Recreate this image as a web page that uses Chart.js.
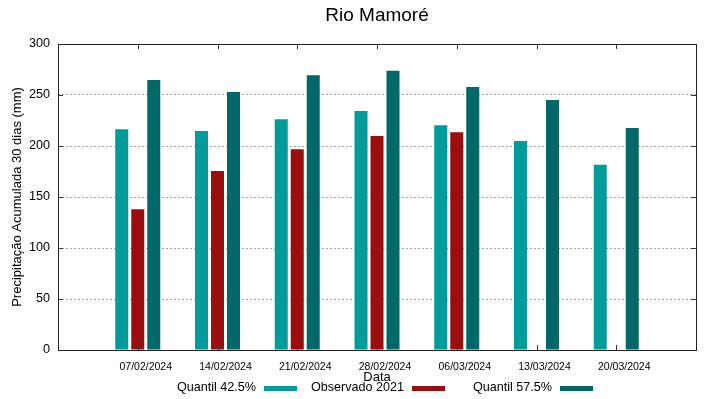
<!DOCTYPE html>
<html>
<head>
<meta charset="utf-8">
<script src="https://cdn.jsdelivr.net/npm/chart.js@4"></script>
<style>
  body { margin: 0; background: #fff; }
  #wrap { width: 719px; height: 399px; }
</style>
</head>
<body>
<div id="wrap"><canvas id="rioChart" width="719" height="399"></canvas></div>
<script>
// dados
const datas = ["07/02/2024", "14/02/2024", "21/02/2024", "28/02/2024", "06/03/2024", "13/03/2024", "20/03/2024"];
const quantil425 = [216.5, 214.7, 226.2, 234.3, 220.3, 205.0, 181.7];
const observado2021 = [138.0, 175.5, 196.7, 209.8, 213.4, null, null];
const quantil575 = [264.7, 252.9, 269.3, 273.8, 257.8, 245.1, 217.6];
const yTicks = [0, 50, 100, 150, 200, 250, 300];

const titulo = "Rio Mamoré";
const fonte = '"Liberation Sans", Arial, sans-serif';

// uma categoria vazia em cada ponta, como o xrange do original
const labels = [""].concat(datas, [""]);
function pad(arr) {
  return [null].concat(arr, [null]);
}

// titulo, moldura, tics para dentro e legenda
const molduraPlugin = {
  id: "moldura",
  afterDraw(chart) {
    const ctx = chart.ctx;
    const a = chart.chartArea;
    const xs = chart.scales.x;
    const ys = chart.scales.y;
    ctx.save();

    ctx.strokeStyle = "#333";
    ctx.lineWidth = 1;
    ctx.setLineDash([]);
    ctx.beginPath();
    for (let i = 1; i <= datas.length; i++) {
      const px = Math.round(xs.getPixelForValue(i)) + 0.5;
      ctx.moveTo(px, a.bottom);
      ctx.lineTo(px, a.bottom - 5);
      ctx.moveTo(px, a.top);
      ctx.lineTo(px, a.top + 5);
    }
    yTicks.forEach((v) => {
      const py = Math.round(ys.getPixelForValue(v)) + 0.5;
      ctx.moveTo(a.left, py);
      ctx.lineTo(a.left + 5, py);
      ctx.moveTo(a.right, py);
      ctx.lineTo(a.right - 5, py);
    });
    ctx.stroke();

    ctx.strokeStyle = "#222";
    ctx.strokeRect(Math.round(a.left) + 0.5, Math.round(a.top) + 0.5, Math.round(a.right - a.left), Math.round(a.bottom - a.top));

    const cx = (a.left + a.right) / 2;
    ctx.fillStyle = "#000";
    ctx.font = "19px " + fonte;
    ctx.textAlign = "center";
    ctx.textBaseline = "alphabetic";
    ctx.fillText(titulo, cx, 21);

    // legenda em colunas fixas, texto alinhado a direita
    ctx.font = "12.6px " + fonte;
    ctx.textAlign = "right";
    ctx.textBaseline = "middle";
    chart.data.datasets.forEach((ds, k) => {
      const tx = cx + 27 + (k - 1) * 148;
      ctx.fillStyle = "#000";
      ctx.fillText(ds.label, tx, 388);
      ctx.fillStyle = ds.backgroundColor;
      ctx.fillRect(tx + 8, 386, 33, 5);
    });
    ctx.restore();
  },
};

const ctx = document.getElementById("rioChart").getContext("2d");
const rioChart = new Chart(ctx, {
  type: "bar",
  data: {
    labels: labels,
    datasets: [
      {
        label: "Quantil 42.5%",
        data: pad(quantil425),
        backgroundColor: "#009b9b",
      },
      {
        label: "Observado 2021",
        data: pad(observado2021),
        backgroundColor: "#9a0e0e",
      },
      {
        label: "Quantil 57.5%",
        data: pad(quantil575),
        backgroundColor: "#006868",
      },
    ],
  },
  options: {
    responsive: false,
    animation: false,
    categoryPercentage: 0.602,
    barPercentage: 0.8125,
    layout: { padding: { top: 44, right: 23, left: 0, bottom: 0 } },
    plugins: {
      legend: { display: false },
      title: { display: false },
      tooltip: { enabled: false },
    },
    scales: {
      x: {
        offset: false,
        grid: { display: false, drawTicks: false },
        border: { display: false },
        ticks: {
          autoSkip: false,
          maxRotation: 0,
          padding: 11,
          labelOffset: 8,
          color: "#000",
          font: { family: fonte, size: 10.5 },
        },
        title: {
          display: true,
          text: "Data",
          color: "#000",
          font: { family: fonte, size: 13 },
          padding: { top: 0, bottom: 14 },
        },
        afterFit(scale) {
          scale.height = 49;
        },
      },
      y: {
        min: 0,
        max: 300,
        grid: { color: "#a0a0a0", lineWidth: 1, drawTicks: false },
        border: { display: false, dash: [2, 2] },
        ticks: {
          stepSize: 50,
          padding: 8,
          color: "#000",
          font: { family: fonte, size: 12.6 },
        },
        title: {
          display: true,
          text: "Precipitação Acumulada 30 dias (mm)",
          color: "#000",
          font: { family: fonte, size: 13 },
          padding: { top: 10, bottom: 0 },
        },
        afterFit(scale) {
          scale.width = 58;
        },
      },
    },
  },
  plugins: [molduraPlugin],
});
</script>
</body>
</html>
